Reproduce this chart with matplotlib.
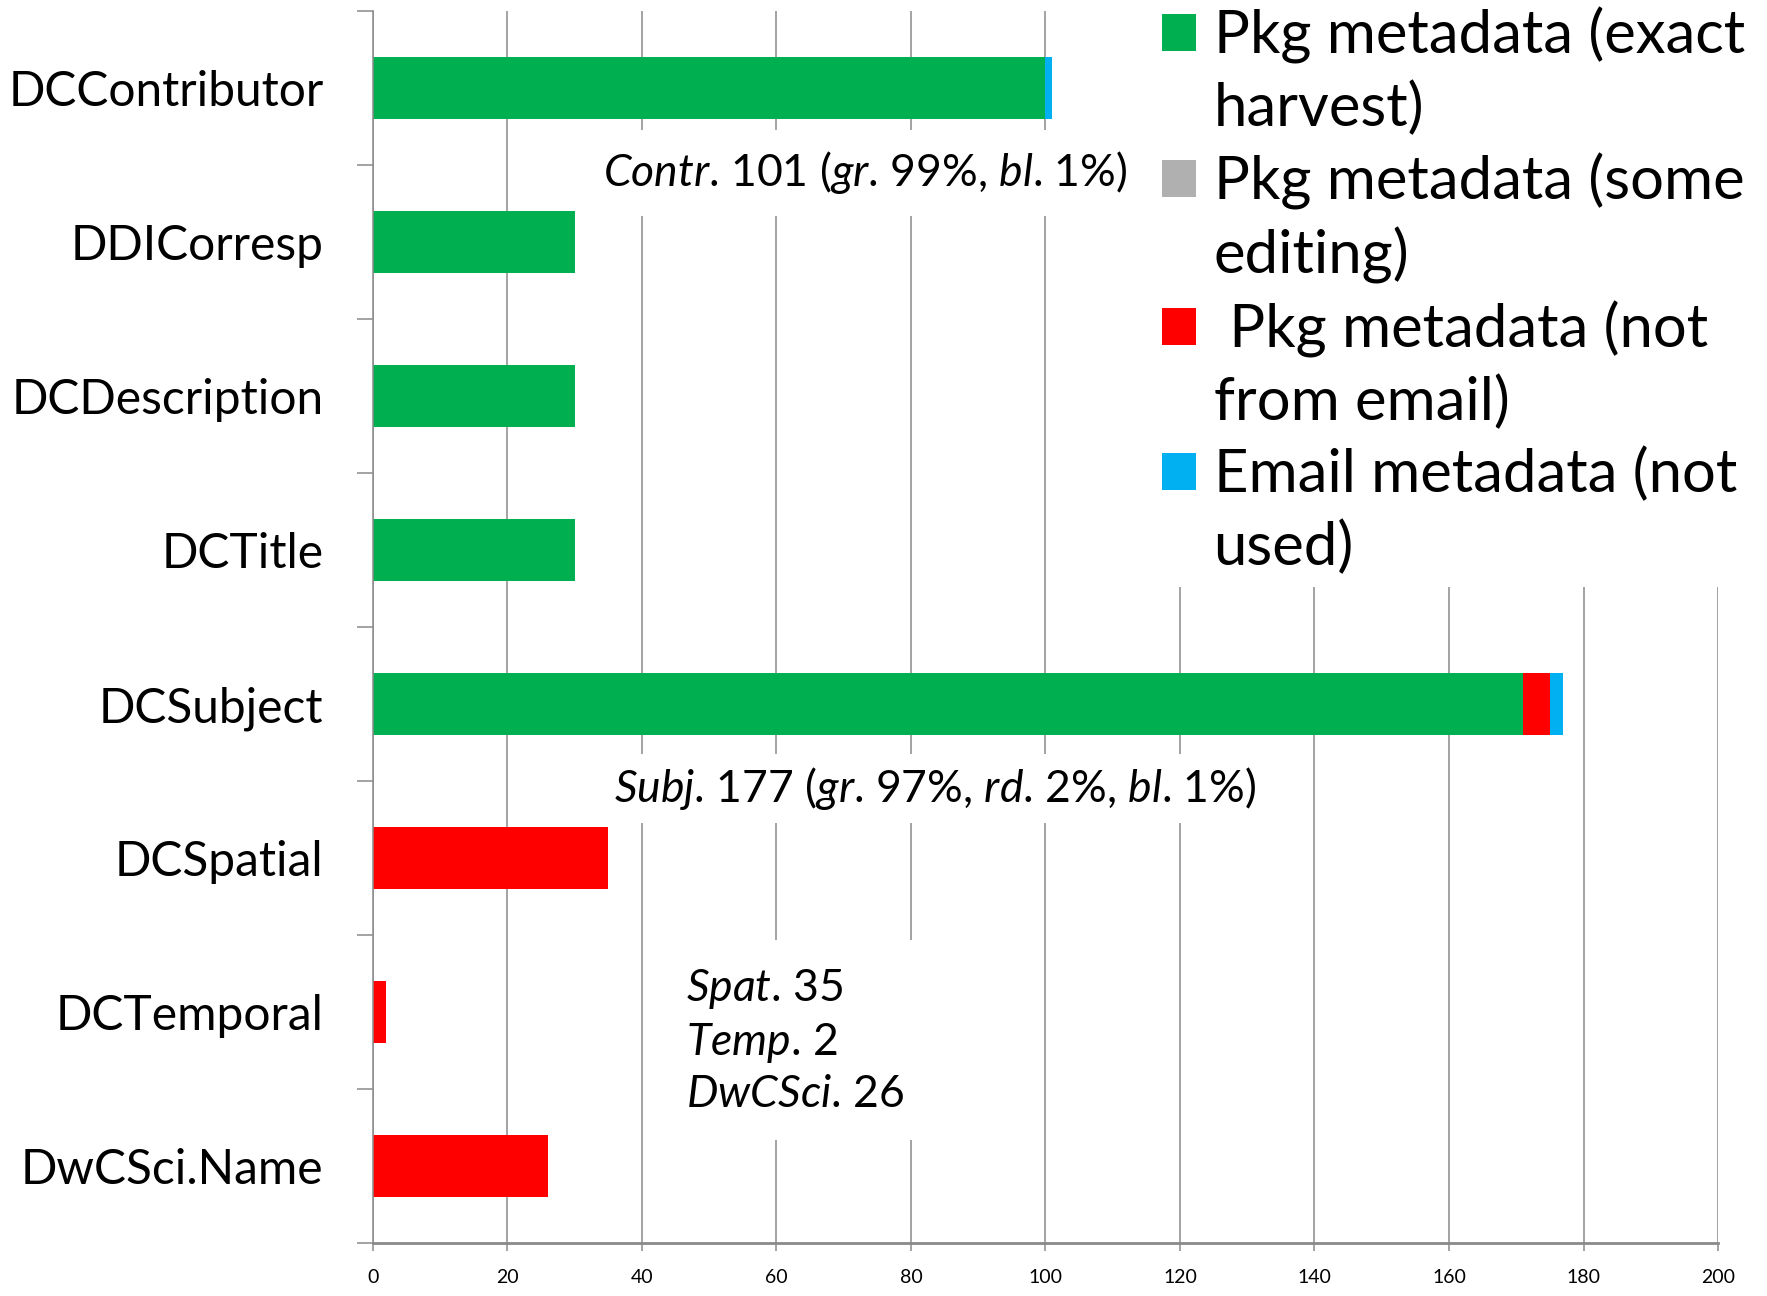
import matplotlib
matplotlib.use("Agg")
import matplotlib.pyplot as plt
from matplotlib.patches import Patch
import numpy as np

plt.rcParams['font.family'] = ['Lato', 'DejaVu Sans']
plt.rcParams['mathtext.fontset'] = 'custom'
plt.rcParams['mathtext.rm'] = 'Lato'
plt.rcParams['mathtext.it'] = 'Lato:italic'

# data
categories = ["DCContributor", "DDICorresp", "DCDescription", "DCTitle",
              "DCSubject", "DCSpatial", "DCTemporal", "DwCSci.Name"]
exact_harvest = [100, 30, 30, 30, 171, 0, 0, 0]
some_editing = [0, 0, 0, 0, 0, 0, 0, 0]
not_from_email = [0, 0, 0, 0, 4, 35, 2, 26]
email_unused = [1, 0, 0, 0, 2, 0, 0, 0]

series_labels = ["Pkg metadata (exact\nharvest)",
                 "Pkg metadata (some\nediting)",
                 " Pkg metadata (not\nfrom email)",
                 "Email metadata (not\nused)"]
colors = ["#00B050", "#B0B0B0", "#FF0000", "#00B0F0"]
xticks = list(range(0, 201, 20))

# period kept outside the math so mathtext adds no extra space after it
notes = [r"$\mathit{Contr}$. 101 ($\mathit{gr}$. 99%, $\mathit{bl}$. 1%)",
         r"$\mathit{Subj}$. 177 ($\mathit{gr}$. 97%, $\mathit{rd}$. 2%, $\mathit{bl}$. 1%)",
         "$\\mathit{Spat}$. 35\n$\\mathit{Temp}$. 2\n$\\mathit{DwCSci}$. 26"]

grid_col = "#8a8a8a"

fig = plt.figure(figsize=(17.67, 12.96), dpi=100)
ax = fig.add_axes([0.211, 0.0409, 0.7613, 0.9506])

y = np.arange(len(categories))
left = np.zeros(len(categories))
for vals, col in zip([exact_harvest, some_editing, not_from_email, email_unused], colors):
    ax.barh(y, vals, left=left, height=0.4, color=col, linewidth=0, zorder=2)
    left += np.array(vals)

ax.set_xlim(0, 200)
ax.set_ylim(len(categories) - 0.5, -0.5)
ax.set_xticks(xticks)
ax.set_yticks(y)
ax.set_yticklabels(categories)
ax.set_yticks(np.arange(-0.5, len(categories), 1), minor=True)
ax.tick_params(axis='y', which='major', length=0, pad=35.5, labelsize=34.5)
ax.tick_params(axis='y', which='minor', length=11.5, width=1.1, color=grid_col)
ax.tick_params(axis='x', length=6, width=1.1, color=grid_col, pad=13, labelsize=14)

ax.grid(axis='x', color=grid_col, linewidth=1.1, zorder=0)
ax.set_axisbelow(True)
for s in ['top', 'right']:
    ax.spines[s].set_visible(False)
ax.spines['left'].set_color(grid_col)
ax.spines['left'].set_linewidth(1.1)
ax.spines['bottom'].set_color(grid_col)
ax.spines['bottom'].set_linewidth(2)

# annotations (white boxes hide the gridlines behind them)
ax.text(34.2, 0.55, notes[0], fontsize=32, va='center', ha='left', zorder=5,
        bbox=dict(facecolor='white', edgecolor='none', pad=14))
ax.text(35.9, 4.55, notes[1], fontsize=32, va='center', ha='left', zorder=5,
        bbox=dict(facecolor='white', edgecolor='none', pad=8))
ax.text(46.6, 6.19, notes[2], fontsize=32, va='center', ha='left', zorder=5,
        linespacing=1.29, bbox=dict(facecolor='white', edgecolor='none', pad=18))

# legend: one row per text line so the colour square sits on the first line
handles, labels = [], []
for lab, col in zip(series_labels, colors):
    for i, part in enumerate(lab.split("\n")):
        if i == 0:
            handles.append(Patch(facecolor=col, edgecolor='none'))
        else:
            handles.append(Patch(facecolor='none', edgecolor='none'))
        labels.append(part)

leg = ax.legend(handles, labels, loc='upper left', bbox_to_anchor=(0.651, 1.004),
                bbox_transform=fig.transFigure, fontsize=43, frameon=True,
                facecolor='white', edgecolor='none', framealpha=1, fancybox=False,
                borderpad=0.2, borderaxespad=0, handlelength=0.56, handleheight=0.56,
                handletextpad=0.3, labelspacing=0.28)
leg.set_zorder(6)

fig.savefig("out.png", dpi=100)
